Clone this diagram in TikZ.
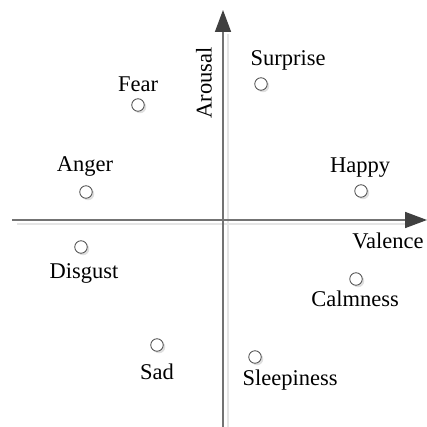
\documentclass[tikz,border=0pt]{standalone}
\usepackage{fontspec}
\setmainfont{Liberation Serif}
\usetikzlibrary{arrows.meta,shadows}

\begin{document}
\begin{tikzpicture}[x=1pt, y=-1pt,
    >={Triangle[length=22pt,width=16pt]},
    emo/.style={draw=black!70, circle, fill=white, minimum size=12.5pt, inner sep=0pt, line width=0.8pt,
      drop shadow={shadow xshift=2pt, shadow yshift=-2pt, opacity=0.25, fill=gray}},
    lbl/.style={font=\fontsize{22.5}{26}\selectfont, inner sep=0pt},
    axis/.style={draw=black!55, line width=1.6pt, -{>[fill=black!75,color=black!75]}},
    axshadow/.style={draw=black!10, line width=1.6pt}]

  \useasboundingbox (0,0) rectangle (427,427);

  % axes
  \coordinate (xs) at (12,220);
  \coordinate (xe) at (427,220);
  \coordinate (ys) at (223,427);
  \coordinate (ye) at (223,10);
  \draw[axshadow] (17,224) -- (408,224);
  \draw[axshadow] (228,427) -- (228,34);
  \draw[axis] (xs) -- (xe);
  \draw[axis] (ys) -- (ye);

  \node[lbl] (valence) at (388,241) {Valence};
  \node[lbl, rotate=90] (arousal) at (204,83) {Arousal};

  % emotions
  \node[emo] (surprise) at (261,84)  {};
  \node[emo] (fear)     at (138,105) {};
  \node[emo] (anger)    at (86,192)  {};
  \node[emo] (happy)    at (361,191) {};
  \node[emo] (disgust)  at (81,247)  {};
  \node[emo] (calm)     at (356,279) {};
  \node[emo] (sad)      at (157,345) {};
  \node[emo] (sleep)    at (255,357) {};

  \node[lbl] (surprise-l) at (288,60)  {Surprise};
  \node[lbl] (fear-l)     at (138,84)  {Fear};
  \node[lbl] (anger-l)    at (85,167)  {Anger};
  \node[lbl] (happy-l)    at (360,168) {Happy};
  \node[lbl] (disgust-l)  at (84,273)  {Disgust};
  \node[lbl] (calm-l)     at (355,299) {Calmness};
  \node[lbl] (sad-l)      at (157,372) {Sad};
  \node[lbl] (sleep-l)    at (290,380) {Sleepiness};
\end{tikzpicture}
\end{document}
